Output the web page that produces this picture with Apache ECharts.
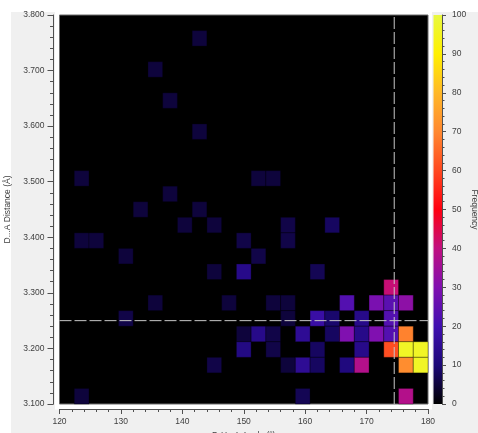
<!DOCTYPE html>
<html>
<head>
<meta charset="utf-8">
<script src="https://cdn.jsdelivr.net/npm/echarts@6/dist/echarts.min.js"></script>
<style>
  html, body { margin: 0; padding: 0; background: #ffffff; }
  #chart { width: 478px; height: 433px; }
</style>
</head>
<body>
<div id="chart"></div>
<script>
// 2D histogram of hydrogen-bond geometry: D-H...A angle vs D...A distance.
// Each cell is one histogram bin, given by its bin centre and its frequency.
const cellAngle = [
  142.8, 135.6, 138.0, 142.8, 123.6, 152.4, 154.8, 138.0, 133.2, 142.8,
  140.4, 145.2, 157.2, 164.4, 123.6, 126.0, 150.0, 157.2, 130.8, 152.4,
  145.2, 150.0, 162.0, 174.0,
  135.6, 147.6, 154.8, 157.2, 166.8, 171.6, 174.0, 176.4,
  130.8, 157.2, 162.0, 164.4, 169.2, 174.0,
  150.0, 152.4, 154.8, 159.6, 164.4, 166.8, 169.2, 171.6, 174.0, 176.4,
  150.0, 154.8, 162.0, 169.2, 174.0, 176.4, 178.8,
  145.2, 157.2, 159.6, 162.0, 166.8, 169.2, 176.4, 178.8,
  123.6, 159.6, 176.4
];
const cellDistance = [
  3.758, 3.702, 3.646, 3.590, 3.506, 3.506, 3.506, 3.478, 3.450, 3.450,
  3.422, 3.422, 3.422, 3.422, 3.394, 3.394, 3.394, 3.394, 3.366, 3.366,
  3.338, 3.338, 3.338, 3.310,
  3.282, 3.282, 3.282, 3.282, 3.282, 3.282, 3.282, 3.282,
  3.254, 3.254, 3.254, 3.254, 3.254, 3.254,
  3.226, 3.226, 3.226, 3.226, 3.226, 3.226, 3.226, 3.226, 3.226, 3.226,
  3.198, 3.198, 3.198, 3.198, 3.198, 3.198, 3.198,
  3.170, 3.170, 3.170, 3.170, 3.170, 3.170, 3.170, 3.170,
  3.114, 3.114, 3.114
];
const cellFrequency = [
  5, 5, 5, 5, 5, 5, 5, 5, 5, 5,
  5, 5, 6, 8, 5, 5, 6, 6, 5, 6,
  5, 13, 7, 41,
  5, 5, 5, 5, 23, 29, 24, 32,
  6, 5, 18, 9, 13, 23,
  5, 13, 6, 15, 8, 30, 13, 30, 23, 69,
  12, 6, 8, 13, 61, 96, 96,
  6, 5, 15, 8, 11, 38, 71, 96,
  5, 7, 38
];

// Histogram bin sizes
const angleBinWidth = 2.4;
const distanceBinWidth = 0.028;

// Geometric cut-offs marked by the dashed guide lines
const angleCutoff = 174.5;
const distanceCutoff = 3.25;

// Axis ranges and colour scale ticks
const angleRange = [120, 180];
const distanceRange = [3.1, 3.8];
const frequencyRange = [0, 100];

const scaleColors = [
  '#000000', '#1c0878', '#4010b0', '#8010b0', '#c01080', '#ff0010',
  '#ff4820', '#ff8830', '#ffb828', '#fff000', '#e8f840'
];

const cells = cellAngle.map((a, k) => [a, cellDistance[k], cellFrequency[k]]);

const FONT = 'Liberation Sans';
const textColor = '#404040';
const axisColor = '#505050';

const chart = echarts.init(document.getElementById('chart'), null, { renderer: 'canvas' });

chart.setOption({
  animation: false,
  backgroundColor: '#ffffff',
  textStyle: { fontFamily: FONT },
  graphic: {
    elements: [
      { type: 'rect', z: -100, silent: true,
        shape: { x: 11, y: 12, width: 467, height: 421 },
        style: { fill: '#f0f0f0' } },
      { type: 'rect', z: -99, silent: true,
        shape: { x: 55, y: 0, width: 377, height: 409.5 },
        style: { fill: '#ffffff' } }
    ]
  },
  grid: [
    { left: 59.5, right: 50, top: 15, bottom: 29, show: true,
      outerBoundsMode: 'none', containLabel: false,
      backgroundColor: '#000000', borderColor: '#6a6a6a', borderWidth: 1 },
    { left: 433.5, width: 8.5, top: 15, bottom: 29,
      outerBoundsMode: 'none', containLabel: false }
  ],
  xAxis: [
    {
      gridIndex: 0, type: 'value',
      min: angleRange[0], max: angleRange[1], interval: 10,
      offset: 5,
      name: 'D-H...A Angle (°)', nameLocation: 'middle', nameGap: 21,
      nameTextStyle: { color: textColor, fontSize: 8.5, fontFamily: FONT },
      axisLine: { show: true, onZero: false, lineStyle: { color: axisColor, width: 1 } },
      axisTick: { show: true, length: 5, lineStyle: { color: axisColor } },
      minorTick: { show: true, splitNumber: 5, length: 3, lineStyle: { color: axisColor } },
      splitLine: { show: false },
      axisLabel: { color: textColor, fontSize: 8.5, fontFamily: FONT, margin: 8 }
    },
    {
      gridIndex: 1, type: 'category', data: ['f'], show: false
    }
  ],
  yAxis: [
    {
      gridIndex: 0, type: 'value',
      min: distanceRange[0], max: distanceRange[1], interval: 0.1,
      offset: 6,
      name: 'D...A Distance (Å)', nameLocation: 'middle', nameGap: 33,
      nameTextStyle: { color: textColor, fontSize: 8.5, fontFamily: FONT },
      axisLine: { show: true, onZero: false, lineStyle: { color: axisColor, width: 1 } },
      axisTick: { show: true, length: 6, lineStyle: { color: axisColor } },
      minorTick: { show: true, splitNumber: 5, length: 3.5, lineStyle: { color: axisColor } },
      splitLine: { show: false },
      axisLabel: {
        color: textColor, fontSize: 8.5, fontFamily: FONT, margin: 9,
        formatter: v => v.toFixed(3)
      }
    },
    {
      gridIndex: 1, type: 'value', position: 'right',
      min: frequencyRange[0], max: frequencyRange[1], interval: 10,
      name: 'Frequency', nameLocation: 'middle', nameGap: 27, nameRotate: -90,
      nameTextStyle: { color: textColor, fontSize: 8.5, fontFamily: FONT },
      axisLine: { show: true, lineStyle: { color: axisColor, width: 1 } },
      axisTick: { show: true, length: 4, lineStyle: { color: axisColor } },
      minorTick: { show: true, splitNumber: 5, length: 2.5, lineStyle: { color: axisColor } },
      splitLine: { show: false },
      axisLabel: { color: textColor, fontSize: 8.5, fontFamily: FONT, margin: 10 }
    }
  ],
  visualMap: {
    type: 'continuous', show: false,
    min: frequencyRange[0], max: frequencyRange[1],
    dimension: 2, seriesIndex: 0,
    inRange: { color: scaleColors }
  },
  series: [
    {
      type: 'custom',
      xAxisIndex: 0, yAxisIndex: 0,
      data: cells,
      encode: { x: 0, y: 1 },
      renderItem: function (params, api) {
        const a = api.value(0);
        const d = api.value(1);
        const p0 = api.coord([a - angleBinWidth / 2, d + distanceBinWidth / 2]);
        const p1 = api.coord([a + angleBinWidth / 2, d - distanceBinWidth / 2]);
        return {
          type: 'rect',
          shape: { x: p0[0], y: p0[1], width: p1[0] - p0[0], height: p1[1] - p0[1] },
          style: { fill: api.visual('color'), stroke: 'rgba(0,0,0,0.3)', lineWidth: 1 }
        };
      },
      silent: true,
      z: 2
    },
    {
      type: 'line',
      xAxisIndex: 0, yAxisIndex: 0,
      data: [[angleCutoff, distanceRange[0]], [angleCutoff, distanceRange[1]]],
      symbol: 'none', silent: true, z: 5,
      lineStyle: { color: '#c8c8c8', width: 1, type: [12, 3] }
    },
    {
      type: 'line',
      xAxisIndex: 0, yAxisIndex: 0,
      data: [[angleRange[0], distanceCutoff], [angleRange[1], distanceCutoff]],
      symbol: 'none', silent: true, z: 5,
      lineStyle: { color: '#c8c8c8', width: 1, type: [12, 3] }
    },
    {
      type: 'bar',
      xAxisIndex: 1, yAxisIndex: 1,
      data: [frequencyRange[1]],
      barWidth: '100%',
      silent: true,
      itemStyle: {
        color: {
          type: 'linear', x: 0, y: 1, x2: 0, y2: 0,
          colorStops: scaleColors.map((c, k) => ({ offset: k / (scaleColors.length - 1), color: c }))
        }
      }
    }
  ]
});
</script>
</body>
</html>
